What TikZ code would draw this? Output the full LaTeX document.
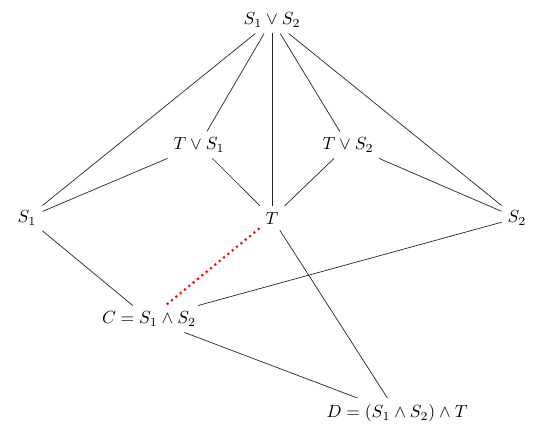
\documentclass[tikz,border=0pt]{standalone}
\begin{document}
\begin{tikzpicture}[x=0.57pt,y=-0.57pt,
  lat/.style={inner sep=3.3pt},
  edge/.style={draw=black!85, line width=0.4pt},
  hl/.style={draw=red, very thick, dotted}]
\useasboundingbox (0,0) rectangle (540,438);
\node[lat] (top) at (272,20) {$S_1\vee S_2$};
\node[lat] (ts1) at (199,145) {$T\vee S_1$};
\node[lat] (ts2) at (348,145) {$T\vee S_2$};
\node[lat] (s1) at (27,218) {$S_1$};
\node[lat] (t) at (272,218) {$T$};
\node[lat] (s2) at (517,218) {$S_2$};
\node[lat] (c) at (149,319) {$C = S_1\wedge S_2$};
\node[lat] (d) at (397,413) {$D = (S_1\wedge S_2)\wedge T$};
\draw[edge] (top) -- (s1);
\draw[edge] (top) -- (ts1);
\draw[edge] (top) -- (t);
\draw[edge] (top) -- (ts2);
\draw[edge] (top) -- (s2);
\draw[edge] (ts1) -- (s1);
\draw[edge] (ts1) -- (t);
\draw[edge] (ts2) -- (t);
\draw[edge] (ts2) -- (s2);
\draw[edge] (s1) -- (c);
\draw[edge] (s2) -- (c);
\draw[edge] (c) -- (d);
\draw[edge] (t) -- (d);
\draw[hl] (t) -- (c);
\end{tikzpicture}
\end{document}
